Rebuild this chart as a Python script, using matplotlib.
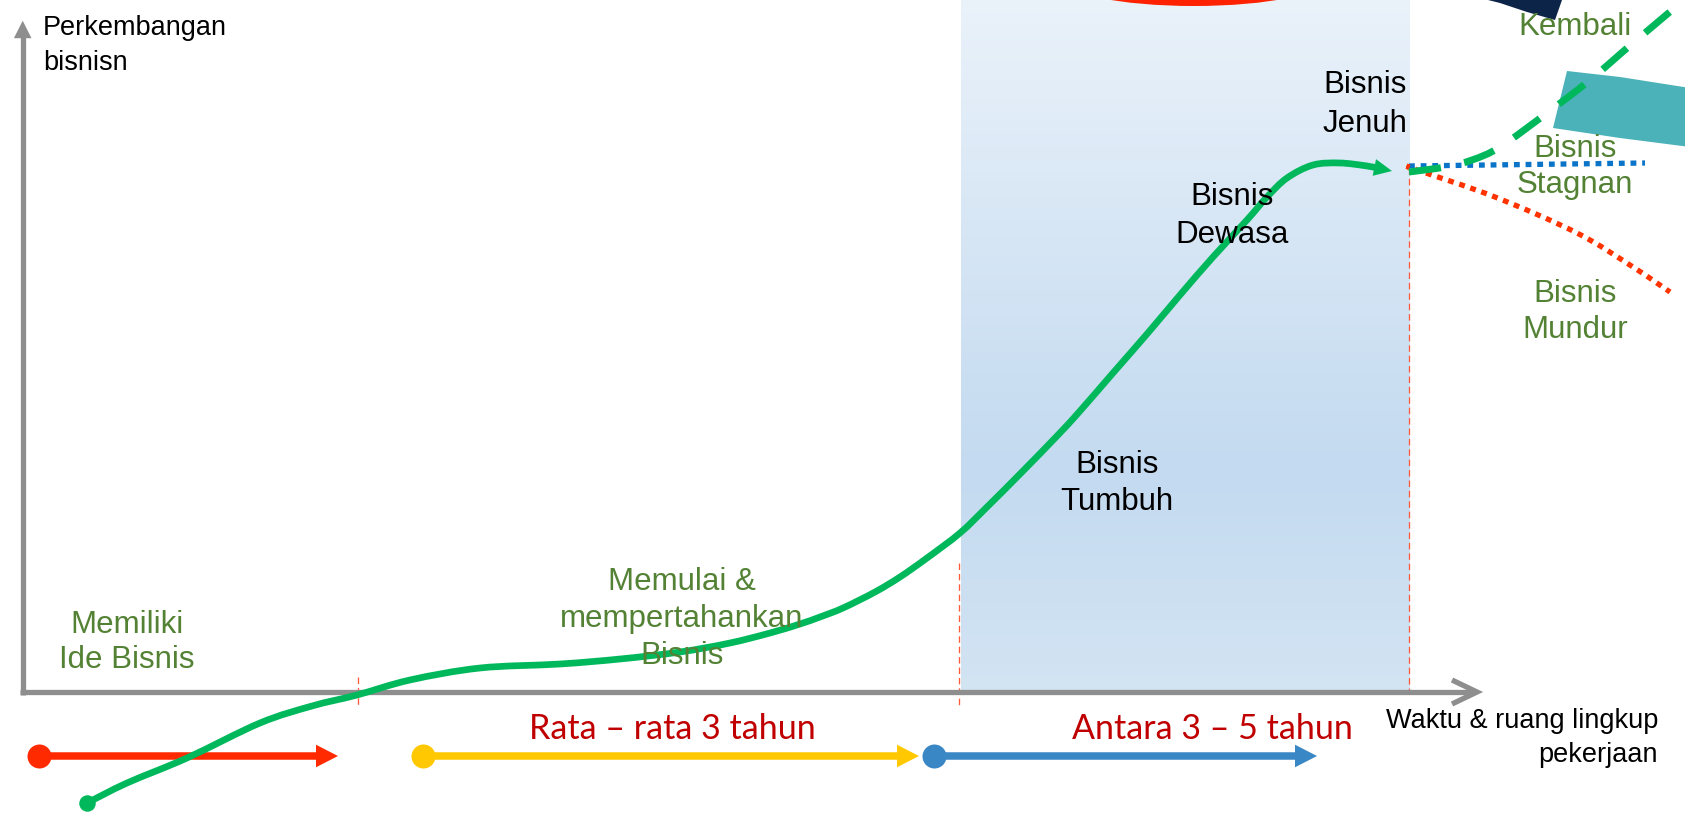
import matplotlib
matplotlib.use('Agg')
import matplotlib.pyplot as plt
import numpy as np
from matplotlib.patches import Polygon, Ellipse, PathPatch
from matplotlib.path import Path
from matplotlib.colors import LinearSegmentedColormap

# ---------------- data (diagram units = reference pixels, y grows downward) -------------
curve_x = [87, 127, 187, 260, 312, 357, 410, 480, 560, 620, 680, 730, 770, 800, 820, 843,
           875, 900, 927, 960, 987, 1020, 1057, 1080, 1113, 1147, 1180, 1213, 1247, 1267,
           1287, 1313, 1340, 1367, 1392]
curve_y = [803, 783, 758, 723, 706, 695, 680, 668, 664, 659, 652, 643, 633, 624, 617, 608,
           592, 577, 558, 533, 507, 474, 436, 411, 373, 334, 295, 257, 220, 197,
           178, 165, 163, 166, 171]

kembali_x = [1409, 1445, 1472, 1500, 1547, 1590, 1633, 1690]
kembali_y = [172, 167, 160, 147, 113, 80, 43, -5]
stagnan_x = [1409, 1645]
stagnan_y = [166, 163]
mundur_x = [1409, 1417, 1495, 1577, 1633, 1670]
mundur_y = [167, 170, 197, 233, 267, 292]

divider_x = [358, 959, 1409]
divider_top = [677, 563, 168]
divider_bottom = [708, 708, 692]

band_x = [961, 1410]

phase_start = [39, 423, 934]
phase_end = [338, 919, 1317]
phase_colors = ['#ff2a00', '#ffc800', '#3a87c6']
phase_row = 756

axis_origin = (22.7, 692)
axis_y_tip = 20.7
axis_x_tip = 1477

y_label = ['Perkembangan', 'bisnisn']
x_label = ['Waktu & ruang lingkup', 'pekerjaan']

stage_labels = [
    (['Memiliki', 'Ide Bisnis'], 127, [633, 668], '#548235'),
    (['Memulai &', 'mempertahankan', 'Bisnis'], 682, [590, 627, 664], '#548235'),
    (['Bisnis', 'Tumbuh'], 1117, [473, 510], 'black'),
    (['Bisnis', 'Dewasa'], 1232, [205, 243], 'black'),
    (['Bisnis', 'Jenuh'], 1365, [93, 132], 'black'),
    (['Kembali'], 1575, [35], '#548235'),
    (['Bisnis', 'Stagnan'], 1575, [157, 193], '#548235'),
    (['Bisnis', 'Mundur'], 1575, [302, 338], '#548235'),
]
duration_labels = ['Rata \u2013 rata 3 tahun', 'Antara 3 \u2013 5 tahun']
duration_x = [672, 1212]
duration_base = 739

# ---------------- figure ----------------
W, H = 1685, 814
PX = 0.72  # points per reference pixel
fig = plt.figure(figsize=(W / 100, H / 100), dpi=100)
ax = fig.add_axes([0, 0, 1, 1])
ax.set_xlim(0, W)
ax.set_ylim(H, 0)
ax.axis('off')

ARIAL = ['Liberation Sans', 'DejaVu Sans']
CALIBRI = ['Lato', 'DejaVu Sans']


def smooth_path(xs, ys):
    """Bezier path passing through every given point (Catmull-Rom tangents)."""
    P = np.column_stack([xs, ys]).astype(float)
    n = len(P)
    verts = [P[0]]
    codes = [Path.MOVETO]
    for i in range(n - 1):
        p0 = P[i - 1] if i > 0 else P[i]
        p1, p2 = P[i], P[i + 1]
        p3 = P[i + 2] if i + 2 < n else P[i + 1]
        verts += [p1 + (p2 - p0) / 6.0, p2 - (p3 - p1) / 6.0, p2]
        codes += [Path.CURVE4] * 3
    return Path(verts, codes)


def draw_smooth(xs, ys, **kw):
    ax.add_patch(PathPatch(smooth_path(xs, ys), fill=False, **kw))


# gradient band
grad = LinearSegmentedColormap.from_list(
    'band', [(0.0, '#eaf2fa'), (0.68, '#c3daf0'), (1.0, '#d3e4f3')])
gy = np.linspace(0, 1, 256).reshape(-1, 1)
ax.imshow(gy, cmap=grad, extent=[band_x[0], band_x[1], axis_origin[1], 0],
          aspect='auto', zorder=0, interpolation='bilinear')

# decorative shapes at the top
ax.add_patch(Ellipse((1194, -25), 268, 56, fill=False, edgecolor='#ff2200',
                     lw=6 * PX, zorder=1))
ax.add_patch(Polygon([(1488, 0), (1562, 0), (1555, 20), (1527, 12), (1500, 3)],
                     closed=True, facecolor='#0c2447', edgecolor='none', zorder=1))
ax.add_patch(Polygon([(1567, 71), (1620, 77), (1690, 88), (1690, 147), (1620, 138), (1553, 128)],
                     closed=True, facecolor='#4ab2b8', edgecolor='none', zorder=1))

# red dashed dividers
for x, t, b in zip(divider_x, divider_top, divider_bottom):
    ax.plot([x, x], [t, b], color='#ff5a3c', lw=1.3 * PX, ls=(0, (5, 3)), zorder=2)

GRAY = '#8e8e8e'
ox, oy = axis_origin
ax.plot([ox, ox], [oy + 2.5, axis_y_tip + 16], color=GRAY, lw=5.3 * PX,
        solid_capstyle='butt', zorder=3)
ax.add_patch(Polygon([(ox - 8.8, axis_y_tip + 17.5), (ox + 8.8, axis_y_tip + 17.5), (ox, axis_y_tip)],
                     closed=True, facecolor=GRAY, edgecolor='none', zorder=3))
ax.plot([ox - 2.5, axis_x_tip - 3], [oy, oy], color=GRAY, lw=5.3 * PX,
        solid_capstyle='butt', zorder=3)
ax.plot([axis_x_tip - 25, axis_x_tip, axis_x_tip - 25], [oy - 12, oy, oy + 12],
        color=GRAY, lw=5.3 * PX, solid_joinstyle='miter', solid_capstyle='butt', zorder=3)


def arrow_head(tip, direction, length, half, color, z):
    d = np.asarray(direction, float)
    d /= np.hypot(*d)
    n = np.array([-d[1], d[0]])
    tip = np.asarray(tip, float)
    base = tip - d * length
    ax.add_patch(Polygon([base + n * half, tip, base - n * half], closed=True,
                         facecolor=color, edgecolor='none', zorder=z))


GREEN = '#00b85c'
# main curve
end_dir = (curve_x[-1] - curve_x[-2], curve_y[-1] - curve_y[-2])
draw_smooth(curve_x[:-1] + [curve_x[-1] - 12], curve_y[:-1] + [curve_y[-1] - 2.4],
            edgecolor=GREEN, lw=6.7 * PX, capstyle='round', joinstyle='round', zorder=5)
arrow_head((curve_x[-1], curve_y[-1]), end_dir, 18, 8.5, GREEN, 5)
ax.plot(curve_x[0], curve_y[0], 'o', color=GREEN, ms=16.5 * PX, mec='none', zorder=5)

# branches
ax.plot(stagnan_x, stagnan_y, color='#0a74c8', lw=5.3 * PX, ls=(0, (1.1, 1.1)),
        dash_capstyle='butt', zorder=4)
draw_smooth(mundur_x, mundur_y, edgecolor='#ff3300', lw=5.3 * PX, linestyle=(0, (1.1, 1.1)),
            capstyle='butt', zorder=4)
draw_smooth(kembali_x, kembali_y, edgecolor=GREEN, lw=7 * PX, linestyle=(0, (4.6, 3.4)),
            capstyle='butt', zorder=4)

# phase arrows
for s, e, c in zip(phase_start, phase_end, phase_colors):
    ax.plot([s, e - 20], [phase_row, phase_row], color=c, lw=7.5 * PX,
            solid_capstyle='butt', zorder=4)
    arrow_head((e, phase_row), (1, 0), 22, 11.3, c, 4)
    ax.plot(s, phase_row, 'o', color=c, ms=24 * PX, mec='none', zorder=4)

# texts
FS = 22.5
FS_AX = 19.5
ax.text(43, 35, y_label[0], fontsize=FS_AX, family=ARIAL, color='black', va='baseline', ha='left', zorder=6)
ax.text(43, 70, y_label[1], fontsize=FS_AX, family=ARIAL, color='black', va='baseline', ha='left', zorder=6)
ax.text(1658, 728, x_label[0], fontsize=FS_AX, family=ARIAL, color='black', va='baseline', ha='right', zorder=6)
ax.text(1658, 762, x_label[1], fontsize=FS_AX, family=ARIAL, color='black', va='baseline', ha='right', zorder=6)

for lines, cx, bases, col in stage_labels:
    for ln, b in zip(lines, bases):
        ax.text(cx, b, ln, fontsize=FS, family=ARIAL, color=col, va='baseline',
                ha='center', zorder=6)

for lab, cx in zip(duration_labels, duration_x):
    ax.text(cx, duration_base, lab, fontsize=24.5, family=CALIBRI, color='#c00000',
            va='baseline', ha='center', zorder=6)

fig.savefig('out.png', dpi=100)
